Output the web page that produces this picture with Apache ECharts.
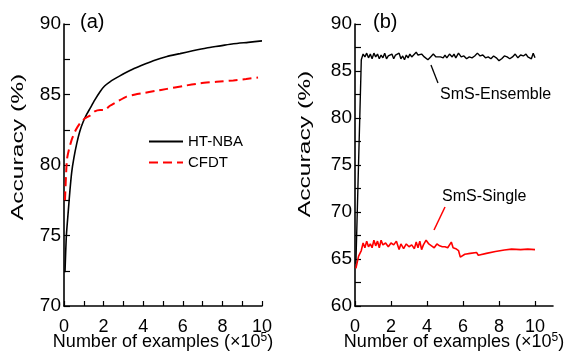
<!DOCTYPE html>
<html>
<head>
<meta charset="utf-8">
<script src="https://cdn.jsdelivr.net/npm/echarts@6/dist/echarts.min.js"></script>
<style>
  html, body { margin: 0; padding: 0; background: #fff; }
  #chart { width: 571px; height: 363px; }
</style>
</head>
<body>
<div id="chart"></div>
<script>
// panel (a): accuracy vs number of examples (x10^5)
const nbaX = [0.05, 0.12, 0.22, 0.3, 0.39, 0.5, 0.64, 0.8, 0.98, 1.15, 1.31, 1.55, 1.82, 2.05, 2.32, 2.8, 3.33, 3.9, 4.51, 5.2, 5.86, 6.5, 7.2, 7.9, 8.55, 9.3, 10.0];
const nbaY = [72.4, 75.0, 76.8, 78.2, 79.5, 80.5, 81.5, 82.4, 83.1, 83.6, 84.0, 84.6, 85.2, 85.6, 85.9, 86.3, 86.7, 87.05, 87.4, 87.7, 87.9, 88.1, 88.3, 88.45, 88.6, 88.7, 88.8];
const cfdtX = [0.05, 0.1, 0.15, 0.25, 0.39, 0.6, 0.81, 1.05, 1.31, 1.55, 1.82, 2.05, 2.32, 2.7, 3.16, 3.6, 4.0, 4.6, 5.2, 6.0, 6.9, 7.7, 8.55, 9.2, 9.8];
const cfdtY = [77.5, 79.2, 80.4, 81.1, 81.8, 82.5, 82.96, 83.3, 83.5, 83.8, 83.9, 83.9, 84.2, 84.5, 84.85, 85.0, 85.1, 85.25, 85.4, 85.6, 85.8, 85.9, 86.0, 86.1, 86.2];

// panel (b)
const ensX = [0.05, 0.35, 0.45, 0.55, 0.65, 0.75, 0.85, 0.95, 1.05, 1.15, 1.25, 1.35, 1.45, 1.55, 1.65, 1.75, 1.85, 1.95, 2.05, 2.15, 2.25, 2.35, 2.45, 2.55, 2.65, 2.75, 2.85, 2.95, 3.05, 3.15, 3.25, 3.4, 3.5, 3.6, 3.7, 3.85, 3.95, 4.05, 4.2, 4.35, 4.5, 4.6, 4.75, 4.9, 5.0, 5.1, 5.25, 5.4, 5.5, 5.6, 5.75, 5.9, 6.05, 6.2, 6.35, 6.5, 6.65, 6.8, 6.95, 7.1, 7.25, 7.4, 7.55, 7.7, 7.85, 8.0, 8.15, 8.3, 8.45, 8.6, 8.75, 8.9, 9.05, 9.2, 9.35, 9.5, 9.6, 9.7, 9.8, 9.9, 10.0];
const ensY = [64.5, 86.2, 86.8, 86.5, 86.9, 86.4, 86.8, 86.3, 86.9, 86.5, 86.8, 86.3, 86.7, 86.4, 86.9, 86.3, 86.6, 86.4, 86.8, 86.3, 86.7, 86.5, 86.9, 86.3, 86.6, 86.2, 86.7, 86.4, 86.8, 86.5, 86.7, 87.0, 86.7, 86.5, 86.8, 86.5, 86.4, 86.2, 86.5, 86.8, 86.5, 86.3, 86.5, 86.4, 86.7, 86.4, 86.8, 86.5, 86.8, 86.4, 86.9, 86.5, 86.6, 86.3, 86.5, 86.4, 86.6, 86.9, 86.6, 86.7, 86.4, 86.5, 86.3, 86.6, 86.4, 86.1, 86.3, 86.6, 86.5, 86.3, 86.5, 86.8, 86.4, 86.7, 86.6, 86.8, 86.5, 86.7, 86.3, 86.9, 86.4];
const sglX = [0.05, 0.2, 0.35, 0.45, 0.55, 0.65, 0.75, 0.85, 0.95, 1.05, 1.15, 1.25, 1.35, 1.45, 1.55, 1.7, 1.85, 2.0, 2.15, 2.3, 2.45, 2.55, 2.7, 2.85, 3.0, 3.15, 3.3, 3.4, 3.5, 3.6, 3.7, 3.8, 3.95, 4.1, 4.25, 4.4, 4.55, 4.7, 4.85, 5.0, 5.15, 5.25, 5.35, 5.45, 5.6, 5.75, 5.85, 6.1, 6.4, 6.75, 6.85, 7.3, 7.8, 8.3, 8.7, 9.2, 9.6, 10.0];
const sglY = [64.0, 65.3, 65.9, 66.7, 66.2, 66.9, 66.3, 66.6, 66.2, 67.0, 66.4, 66.9, 66.2, 67.0, 66.5, 66.7, 66.3, 66.7, 66.5, 66.9, 66.0, 66.6, 66.1, 66.6, 66.3, 66.5, 66.1, 66.8, 66.2, 66.9, 66.0, 66.5, 67.0, 66.6, 66.4, 66.2, 66.6, 66.4, 66.3, 66.3, 66.2, 66.1, 66.8, 66.2, 66.1, 65.9, 65.2, 65.5, 65.6, 65.7, 65.4, 65.6, 65.8, 65.95, 66.05, 66.0, 66.05, 66.0];

const xTicksB = [0, 2, 4, 6, 8, 10];

const zip = (xs, ys) => xs.map((x, i) => [x, ys[i]]);
const FONT = '"Liberation Sans", Arial, sans-serif';
const txt = { color: '#000', fontFamily: FONT, fontSize: 18 };
const axLine = { lineStyle: { color: '#000', width: 1.6 } };

const chart = echarts.init(document.getElementById('chart'), null, { renderer: 'canvas' });

const xName = 'Number of examples (×10{sup|5})';
const nameStyle = Object.assign({}, txt, {
  rich: { sup: { fontSize: 12, verticalAlign: 'top', padding: [0, 0, 8, 0], fontFamily: FONT, color: '#000' } }
});

const option = {
  animation: false,
  grid: [
    { left: 64, top: 24, width: 198, height: 282 },
    { left: 355, top: 24, width: 198, height: 282 }
  ],
  legend: {
    data: ['HT-NBA', 'CFDT'],
    orient: 'vertical',
    left: 148,
    top: 134,
    padding: 0,
    itemWidth: 34,
    itemHeight: 10,
    itemGap: 6,
    itemStyle: { opacity: 0 },
    textStyle: { color: '#000', fontFamily: FONT, fontSize: 15 }
  },
  xAxis: [
    {
      type: 'value', gridIndex: 0, min: 0, max: 10, interval: 1,
      axisLine: axLine,
      axisTick: { inside: true, length: 5, lineStyle: { color: '#000', width: 1.2 } },
      axisLabel: Object.assign({}, txt, { margin: 12, formatter: v => (v % 2 === 0 ? v : '') }),
      splitLine: { show: false },
      name: xName, nameLocation: 'middle', nameGap: 26, nameMoveOverlap: false, nameTextStyle: nameStyle
    },
    {
      type: 'value', gridIndex: 1, min: 0, max: 11, interval: 2,
      axisLine: axLine,
      axisTick: { inside: true, length: 5, customValues: xTicksB, lineStyle: { color: '#000', width: 1.2 } },
      axisLabel: Object.assign({}, txt, { margin: 12, customValues: xTicksB }),
      splitLine: { show: false },
      name: xName, nameLocation: 'middle', nameGap: 26, nameMoveOverlap: false, nameTextStyle: nameStyle
    }
  ],
  yAxis: [
    {
      type: 'value', gridIndex: 0, min: 70, max: 90, interval: 2.5,
      axisLine: Object.assign({ show: true }, axLine),
      axisTick: { show: true, inside: true, length: 6, lineStyle: { color: '#000', width: 1.2 } },
      axisLabel: Object.assign({}, txt, { fontSize: 19, margin: 3, formatter: v => (v % 5 === 0 ? v : '') }),
      splitLine: { show: false }
    },
    {
      type: 'value', gridIndex: 1, min: 60, max: 90, interval: 2.5,
      axisLine: Object.assign({ show: true }, axLine),
      axisTick: { show: true, inside: true, length: 6, lineStyle: { color: '#000', width: 1.2 } },
      axisLabel: Object.assign({}, txt, { fontSize: 19, margin: 3, formatter: v => (v % 5 === 0 ? v : '') }),
      splitLine: { show: false }
    }
  ],
  series: [
    {
      name: 'HT-NBA', type: 'line', xAxisIndex: 0, yAxisIndex: 0,
      data: zip(nbaX, nbaY), symbol: 'none', smooth: 0.2,
      lineStyle: { color: '#000', width: 1.6 }, itemStyle: { color: '#000' }
    },
    {
      name: 'CFDT', type: 'line', xAxisIndex: 0, yAxisIndex: 0,
      data: zip(cfdtX, cfdtY), symbol: 'none', smooth: 0.2,
      lineStyle: { color: '#f00', width: 2, type: [9, 5] }, itemStyle: { color: '#f00' }
    },
    {
      name: 'SmS-Ensemble', type: 'line', xAxisIndex: 1, yAxisIndex: 1,
      data: zip(ensX, ensY), symbol: 'none',
      lineStyle: { color: '#000', width: 1.4 }, itemStyle: { color: '#000' },
      markLine: {
        silent: true, symbol: 'none', label: { show: false },
        lineStyle: { color: '#000', width: 1.3, type: 'solid' },
        data: [[{ coord: [4.22, 85.64] }, { coord: [4.61, 83.72] }]]
      }
    },
    {
      name: 'SmS-Single', type: 'line', xAxisIndex: 1, yAxisIndex: 1,
      data: zip(sglX, sglY), symbol: 'none',
      lineStyle: { color: '#f00', width: 1.6 }, itemStyle: { color: '#f00' },
      markLine: {
        silent: true, symbol: 'none', label: { show: false },
        lineStyle: { color: '#f00', width: 1.5, type: 'solid' },
        data: [[{ coord: [5.0, 70.53] }, { coord: [4.39, 68.09] }]]
      }
    }
  ],
  graphic: [
    { type: 'text', x: 80, y: 22, style: { text: '(a)', fontSize: 20, fontFamily: FONT, fill: '#000', textVerticalAlign: 'middle' } },
    { type: 'text', x: 373, y: 22, style: { text: '(b)', fontSize: 20, fontFamily: FONT, fill: '#000', textVerticalAlign: 'middle' } },
    { type: 'text', x: 440, y: 95, style: { text: 'SmS-Ensemble', fontSize: 16, fontFamily: FONT, fill: '#000', textVerticalAlign: 'middle' } },
    { type: 'text', x: 442, y: 197, style: { text: 'SmS-Single', fontSize: 16, fontFamily: FONT, fill: '#000', textVerticalAlign: 'middle' } },
    { type: 'text', x: 18, y: 147, rotation: Math.PI / 2, scaleX: 1.45,
      style: { text: 'Accuracy (%)', fontSize: 17, fontFamily: FONT, fill: '#000', textAlign: 'center', textVerticalAlign: 'middle' } },
    { type: 'text', x: 305.5, y: 144, rotation: Math.PI / 2, scaleX: 1.45,
      style: { text: 'Accuracy (%)', fontSize: 17, fontFamily: FONT, fill: '#000', textAlign: 'center', textVerticalAlign: 'middle' } }
  ]
};

chart.setOption(option);
</script>
</body>
</html>
